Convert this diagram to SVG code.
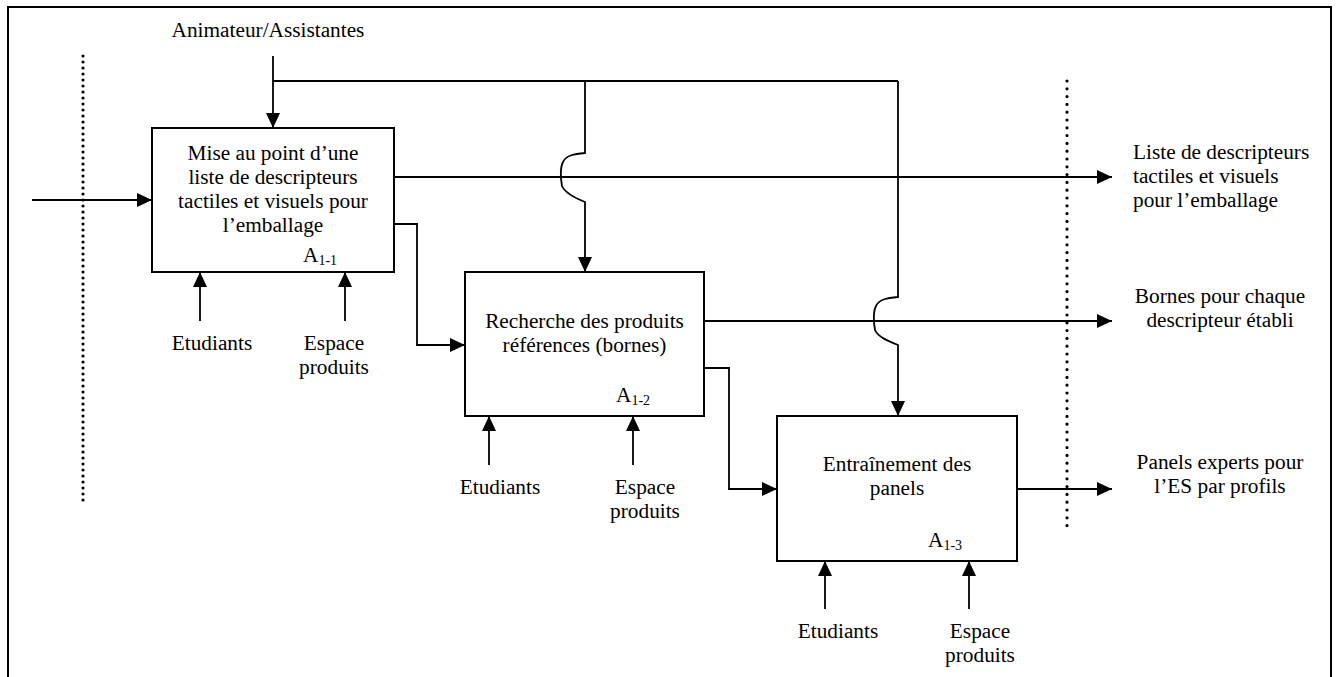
<svg xmlns="http://www.w3.org/2000/svg" width="1337" height="677" viewBox="0 0 1337 677" font-family="'Liberation Serif', 'Times New Roman', 'DejaVu Serif', serif">
<defs>
<marker id="arr" markerUnits="userSpaceOnUse" markerWidth="15" markerHeight="14" refX="15" refY="7" orient="auto">
<path d="M0,0 L15,7 L0,14 z" fill="#000"/>
</marker>
<style>
text{font-family:'Liberation Serif','Times New Roman','DejaVu Serif',serif;font-size:21.3px;fill:#000}
.c{text-anchor:middle}
.sub{font-size:14px}
.box{fill:#fff;stroke:#000;stroke-width:2}
.ln{fill:none;stroke:#000;stroke-width:1.8}
.a{marker-end:url(#arr)}
.dot{fill:none;stroke:#000;stroke-width:3.2;stroke-linecap:round}
</style>
</defs>
<rect width="1337" height="677" fill="#fff"/>
<path d="M8,677 V7 H1331 V677" fill="none" stroke="#000" stroke-width="2"/>
<g id="boundaries">
<line class="dot" x1="83" y1="56" x2="83" y2="505" stroke-dasharray="0 6"/>
<line class="dot" x1="1067" y1="81" x2="1067" y2="529" stroke-dasharray="0 7.8"/>
</g>
<g id="connectors">
<path class="ln a" d="M32,200 H152"/>
<path class="ln a" d="M273,56 V128"/>
<path class="ln" d="M273,81 H898"/>
<path class="ln a" d="M585,81 V153 C575,154 566,155 563,162 C560,168 561,180 562,186 C565,193 575,198 585,202 V272"/>
<path class="ln a" d="M898,81 V297 C888,298 879,299 876,306 C873,312 874,324 875,330 C878,337 888,341 898,345 V416"/>
<path class="ln a" d="M394,177 H1112"/>
<path class="ln a" d="M394,224 H417 V345 H465"/>
<path class="ln a" d="M704,321 H1112"/>
<path class="ln a" d="M704,368 H729 V489 H777"/>
<path class="ln a" d="M1017,489 H1112"/>
<path class="ln a" d="M200,321 V272"/>
<path class="ln a" d="M345,321 V272"/>
<path class="ln a" d="M489,465 V416"/>
<path class="ln a" d="M633,465 V416"/>
<path class="ln a" d="M825,609 V561"/>
<path class="ln a" d="M969,609 V561"/>
</g>
<g id="A1-1">
<rect class="box" x="152" y="128" width="242" height="144"/>
<text class="c" x="273" y="160">Mise au point d’une</text>
<text class="c" x="273" y="184">liste de descripteurs</text>
<text class="c" x="273" y="208">tactiles et visuels pour</text>
<text class="c" x="273" y="232">l’emballage</text>
<text x="303" y="262">A<tspan class="sub" dy="3">1-1</tspan></text>
</g>
<g id="A1-2">
<rect class="box" x="465" y="272" width="239" height="144"/>
<text class="c" x="584.5" y="328">Recherche des produits</text>
<text class="c" x="584.5" y="352">références (bornes)</text>
<text x="616" y="402">A<tspan class="sub" dy="3">1-2</tspan></text>
</g>
<g id="A1-3">
<rect class="box" x="777" y="416" width="240" height="145"/>
<text class="c" x="897" y="471">Entraînement des</text>
<text class="c" x="897" y="495">panels</text>
<text x="928" y="547">A<tspan class="sub" dy="3">1-3</tspan></text>
</g>
<g id="labels">
<text class="c" x="268" y="37">Animateur/Assistantes</text>
<text class="c" x="212" y="350">Etudiants</text>
<text class="c" x="334" y="350">Espace</text>
<text class="c" x="334" y="374">produits</text>
<text class="c" x="500" y="494">Etudiants</text>
<text class="c" x="645" y="494">Espace</text>
<text class="c" x="645" y="518">produits</text>
<text class="c" x="838" y="638">Etudiants</text>
<text class="c" x="980" y="638">Espace</text>
<text class="c" x="980" y="662">produits</text>
<text x="1133" y="159">Liste de descripteurs</text>
<text x="1133" y="183">tactiles et visuels</text>
<text x="1133" y="207">pour l’emballage</text>
<text class="c" x="1220" y="303">Bornes pour chaque</text>
<text class="c" x="1220" y="327">descripteur établi</text>
<text class="c" x="1220" y="469">Panels experts pour</text>
<text class="c" x="1220" y="493">l’ES par profils</text>
</g>
</svg>
